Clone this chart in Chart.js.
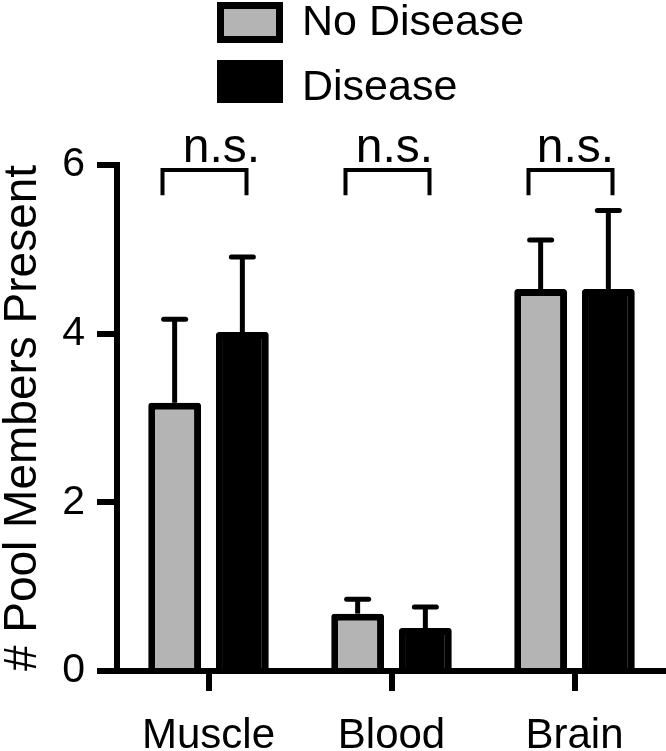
<!DOCTYPE html>
<html><head><meta charset="utf-8">
<script src="https://cdn.jsdelivr.net/npm/chart.js@4"></script>
<style>html,body{margin:0;padding:0;background:#fff;}</style>
</head><body>
<canvas id="c" width="666" height="751"></canvas>
<script>
const categories = ['Muscle', 'Blood', 'Brain'];
const seriesLabels = ['No Disease', 'Disease'];
const noDisease = [3.18, 0.68, 4.53];
const disease = [4.02, 0.51, 4.53];
const noDiseaseErr = [0.99, 0.17, 0.58];
const diseaseErr = [0.89, 0.25, 0.93];
const significance = ['n.s.', 'n.s.', 'n.s.'];
const yTicks = [0, 2, 4, 6];
const yTitle = '# Pool Members Present';

const FAMILY = "'Liberation Sans', Arial, Helvetica, sans-serif";
const GREY = '#b4b4b4';

const errorBars = {
  id: 'errorBars',
  afterDatasetsDraw(chart) {
    const ctx = chart.ctx, y = chart.scales.y;
    chart.data.datasets.forEach((ds, i) => {
      const meta = chart.getDatasetMeta(i);
      meta.data.forEach((bar, j) => {
        const top = y.getPixelForValue(ds.data[j] + ds.err[j]);
        ctx.save();
        ctx.strokeStyle = '#000';
        ctx.lineWidth = 5;
        ctx.lineCap = 'butt';
        ctx.beginPath(); ctx.moveTo(bar.x, bar.y); ctx.lineTo(bar.x, top); ctx.stroke();
        ctx.lineCap = 'round';
        ctx.beginPath(); ctx.moveTo(bar.x - 11, top); ctx.lineTo(bar.x + 11, top); ctx.stroke();
        ctx.restore();
      });
    });
  }
};

const brackets = {
  id: 'brackets',
  afterDraw(chart) {
    const ctx = chart.ctx, x = chart.scales.x, y = chart.scales.y;
    const textShift = [13, 3, 1];
    ctx.save();
    ctx.strokeStyle = '#000';
    ctx.fillStyle = '#000';
    ctx.lineWidth = 4;
    ctx.lineJoin = 'miter';
    categories.forEach((c, j) => {
      const cx = x.getPixelForValue(j);
      const yH = y.getPixelForValue(5.94);
      const yL = y.getPixelForValue(5.64);
      ctx.beginPath();
      ctx.moveTo(cx - 46, yL); ctx.lineTo(cx - 46, yH);
      ctx.lineTo(cx + 38, yH); ctx.lineTo(cx + 38, yL);
      ctx.stroke();
      ctx.font = '48px ' + FAMILY;
      ctx.textAlign = 'center';
      ctx.textBaseline = 'alphabetic';
      ctx.fillText(significance[j], cx + textShift[j], y.getPixelForValue(6) - 3);
    });
    ctx.restore();
  }
};

const boxLegend = {
  id: 'boxLegend',
  afterDraw(chart) {
    const ctx = chart.ctx;
    const ds = chart.data.datasets;
    const rows = [{y: 2, h: 41, base: 35}, {y: 60, h: 43, base: 100}];
    ctx.save();
    ds.forEach((d, i) => {
      const r = rows[i];
      ctx.fillStyle = d.borderColor;
      ctx.fillRect(217, r.y, 66, r.h);
      ctx.fillStyle = d.backgroundColor;
      ctx.fillRect(217 + 7, r.y + 7, 66 - 14, r.h - 14);
      ctx.fillStyle = '#000';
      ctx.font = '43px ' + FAMILY;
      ctx.textAlign = 'left';
      ctx.textBaseline = 'alphabetic';
      ctx.fillText(d.label, 302, r.base);
    });
    ctx.restore();
  }
};

const barCommon = {
  borderColor: '#000',
  borderWidth: 7,
  borderRadius: 3,
  borderSkipped: 'start',
  categoryPercentage: 0.74,
  barPercentage: 0.78
};

new Chart(document.getElementById('c'), {
  type: 'bar',
  data: {
    labels: categories,
    datasets: [
      Object.assign({label: seriesLabels[0], data: noDisease, err: noDiseaseErr, backgroundColor: GREY}, barCommon),
      Object.assign({label: seriesLabels[1], data: disease, err: diseaseErr, backgroundColor: '#000'}, barCommon)
    ]
  },
  options: {
    responsive: false,
    devicePixelRatio: 1,
    animation: false,
    layout: {padding: {top: 165, left: 0, right: 0, bottom: 0}},
    plugins: {legend: {display: false}, tooltip: {enabled: false}},
    scales: {
      x: {
        grid: {display: true, offset: false, drawOnChartArea: false, drawTicks: true,
               tickLength: 20, tickWidth: 6, tickColor: '#000', lineWidth: 6, color: '#000'},
        border: {display: true, width: 6, color: '#000'},
        ticks: {color: '#000', font: {family: FAMILY, size: 42}, padding: 20, maxRotation: 0},
        afterFit: s => { s.height = 80; }
      },
      y: {
        min: 0, max: 6,
        afterBuildTicks: s => { s.ticks = yTicks.map(v => ({value: v})); },
        grid: {drawOnChartArea: false, drawTicks: true, tickLength: 20, tickWidth: 6,
               tickColor: '#000', lineWidth: 6, color: '#000'},
        border: {display: true, width: 6, color: '#000'},
        ticks: {color: '#000', font: {family: FAMILY, size: 41}, padding: 12},
        title: {display: true, text: yTitle, color: '#000',
                font: {family: FAMILY, size: 46, lineHeight: 1}, padding: 0},
        afterFit: s => { s.width = 117; }
      }
    }
  },
  plugins: [errorBars, brackets, boxLegend]
});
</script>
</body></html>
